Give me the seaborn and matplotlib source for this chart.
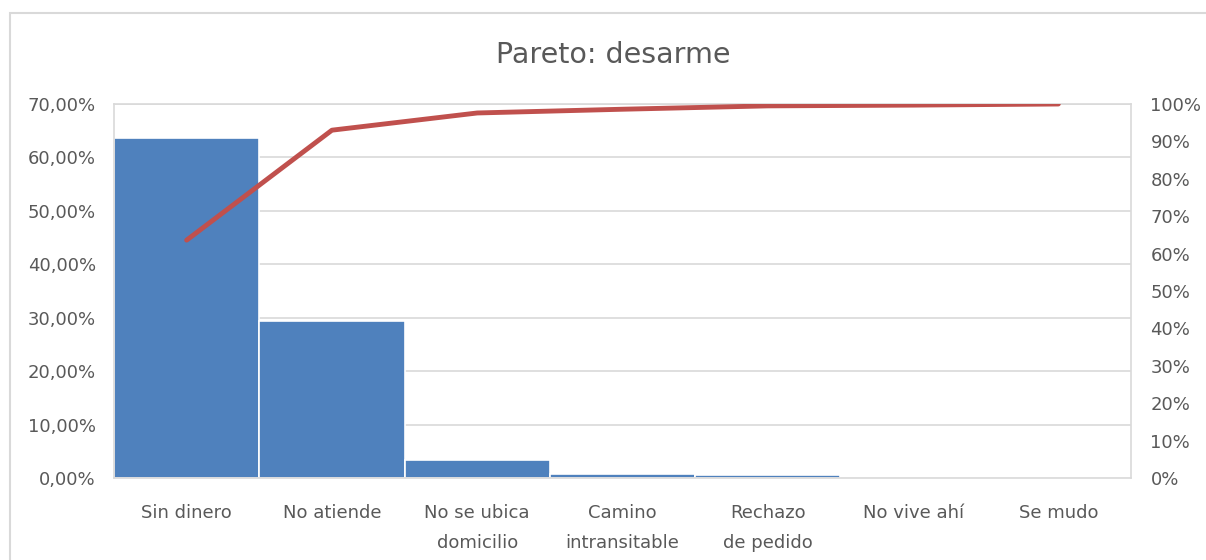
import matplotlib
matplotlib.use("Agg")
import matplotlib.pyplot as plt
import seaborn as sns
import pandas as pd
from matplotlib.patches import Rectangle

categories = ["Sin dinero", "No atiende", "No se ubica\ndomicilio", "Camino\nintransitable",
              "Rechazo\nde pedido", "No vive ahí", "Se mudo"]
bar_values = [63.7, 29.3, 3.4, 0.8, 0.5, 0.05, 0.02]
cum_values = [63.6, 93.0, 97.6, 98.6, 99.5, 99.7, 100.0]
left_ticks = [0, 10, 20, 30, 40, 50, 60, 70]
right_ticks = [0, 10, 20, 30, 40, 50, 60, 70, 80, 90, 100]

sns.set_theme(style="white")
plt.rcParams['font.family'] = ['DejaVu Sans']

text_color = "#595959"
grid_color = "#d9d9d9"
fs = 13

fig = plt.figure(figsize=(12.06, 5.6), dpi=100)
ax = fig.add_axes([114/1206, 1-478/560, (1131-114)/1206, (478-104)/560])

df = pd.DataFrame({"cat": categories, "val": bar_values})
sns.barplot(data=df, x="cat", y="val", ax=ax, color="#4F81BD", saturation=1,
            width=1.0, edgecolor="white", linewidth=1.2, zorder=2)

ax.set_ylim(0, 70)
ax.set_xlim(-0.5, len(categories) - 0.5)
ax.set_yticks(left_ticks)
ax.set_yticklabels([f"{t},00%" for t in left_ticks], fontsize=fs, color=text_color)
ax.tick_params(axis="y", length=0, pad=13)
ax.tick_params(axis="x", length=0, pad=19, labelsize=fs, labelcolor=text_color)
for lbl in ax.get_xticklabels():
    lbl.set_linespacing(1.8)
ax.set_xlabel("")
ax.set_ylabel("")
ax.yaxis.grid(True, color=grid_color, linewidth=1.2, zorder=0)
ax.set_axisbelow(True)
for s in ax.spines.values():
    s.set_color(grid_color)
    s.set_linewidth(1.2)

ax2 = ax.twinx()
sns.lineplot(x=list(range(len(categories))), y=cum_values, ax=ax2, color="#C0504D",
             linewidth=3.5, zorder=5, solid_capstyle="round")
ax2.set_ylim(0, 100)
ax2.set_yticks(right_ticks)
ax2.set_yticklabels([f"{t}%" for t in right_ticks], fontsize=fs, color=text_color)
ax2.tick_params(axis="y", length=0, pad=14)
ax2.grid(False)
for s in ax2.spines.values():
    s.set_visible(False)

fig.text(613/1206, 1-55/560, "Pareto: desarme", ha="center", va="center",
         fontsize=20.5, color=text_color)

fig.patches.append(Rectangle((10/1206, -0.1), 1.2, (1-13/560) + 0.1, transform=fig.transFigure,
                             fill=False, edgecolor="#d9d9d9", linewidth=1.5))

fig.savefig("out.png", dpi=100)
